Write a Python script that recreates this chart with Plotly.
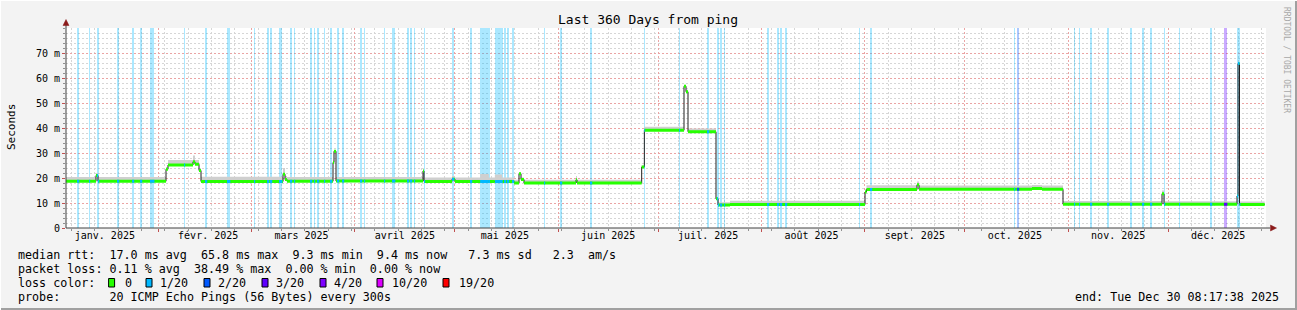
import pandas as pd
import plotly.graph_objects as go

# ---------------- data ----------------
END = pd.Timestamp("2025-12-30 08:17:38")
START = END - pd.Timedelta(days=360)
YEAR0 = pd.Timestamp("2025-01-01")

# median rtt as step changes: day of year (days since 2025-01-01) -> value (ms)
seg_day = [3.35, 12.35, 12.95, 33.35, 33.95, 41.45, 42.05, 43.25, 43.85, 68.45,
           69.05, 69.65, 83.45, 83.75, 84.35, 110.45, 110.75, 119.15, 120.05, 127.6,
           130.2, 132.0, 134.2, 137.8, 139.25, 139.85, 140.75, 156.35, 156.65, 176.05,
           176.85, 188.75, 189.35, 189.95, 198.35, 198.95, 202.55, 243.05, 243.5, 258.65,
           259.25, 293.15, 296.15, 302.45, 332.15, 332.75, 354.65, 354.95, 355.4]
seg_ms = [18.7, 21.0, 18.7, 23.5, 25.2, 26.5, 25.5, 23.0, 18.6, 21.5,
          19.4, 18.7, 26.2, 30.7, 18.8, 22.8, 18.6, 19.5, 18.6, 18.6,
          18.6, 18.6, 18.6, 18.0, 21.7, 19.4, 18.0, 19.3, 18.0, 24.4,
          39.1, 56.7, 54.5, 38.5, 11.7, 9.2, 9.4, 14.4, 15.4, 17.3,
          15.5, 15.8, 15.5, 9.5, 13.7, 9.5, 12.8, 65.8, 9.4]
# upper edge of the grey "smoke" (spread of the 20 pings)
seg_smoke = [20.4, 22.0, 20.4, 24.3, 27.2, 29.0, 27.2, 24.0, 20.5, 24.0,
             20.8, 20.4, 27.0, 31.2, 20.4, 23.4, 20.2, 20.8, 20.2, 21.6,
             20.2, 21.4, 20.2, 19.3, 22.4, 20.2, 19.3, 20.8, 19.3, 25.0,
             40.5, 57.3, 55.3, 39.8, 12.4, 10.3, 10.9, 15.5, 17.1, 18.6,
             17.0, 17.2, 17.0, 10.8, 15.0, 10.7, 13.4, 66.2, 10.6]
line_end_day = 362.95

# packet loss events: day of year, duration (hours), loss level index
loss_day = [6.65, 10.25, 12.65, 18.65, 23.15, 25.55, 28.55, 38.75, 45.05, 51.65,
            59.75, 63.65, 64.55, 67.25, 70.55, 71.75, 76.55, 77.75, 78.65, 80.75,
            82.55, 84.65, 86.15, 91.55, 92.75, 98.75, 101.15, 105.65, 106.55, 107.75,
            110.75, 119.15, 124.55, 127.55, 132.05, 134.75, 135.65, 137.15, 146.75, 151.55,
            160.55, 176.75, 187.25, 195.65, 198.65, 199.55, 200.75, 213.65, 216.65, 217.55,
            219.05, 241.25, 244.55, 287.75, 288.65, 305.75, 307.25, 310.55, 315.65, 322.55,
            326.15, 328.55, 332.75, 337.25, 346.55, 350.75, 354.65]
loss_hours = [16, 8, 16, 16, 16, 16, 32, 8, 16, 24,
              8, 16, 16, 24, 16, 8, 16, 8, 16, 8,
              16, 16, 16, 16, 8, 8, 24, 16, 16, 8,
              8, 16, 16, 72, 56, 16, 16, 16, 8, 16,
              16, 8, 8, 16, 16, 16, 8, 16, 16, 16,
              16, 8, 16, 8, 16, 8, 8, 16, 16, 16,
              16, 16, 8, 8, 16, 24, 24]
loss_level = [1] * len(loss_day)
loss_level[loss_day.index(288.65)] = 2
loss_level[loss_day.index(350.75)] = 3

loss_labels = ["0", "1/20", "2/20", "3/20", "4/20", "10/20", "19/20"]
loss_colors = ["#26ff00", "#00b8ff", "#0059ff", "#5e00ff", "#7e00ff", "#dd00ff", "#ff0000"]

month_labels = ["janv. 2025", "févr. 2025", "mars 2025", "avril 2025", "mai 2025", "juin 2025",
                "juil. 2025", "août 2025", "sept. 2025", "oct. 2025", "nov. 2025", "déc. 2025"]
y_ticks = [0, 10, 20, 30, 40, 50, 60, 70]
y_labels = ["0"] + [f"{v} m" for v in y_ticks[1:]]

row_rtt = "median rtt:  17.0 ms avg  65.8 ms max  9.3 ms min  9.4 ms now   7.3 ms sd   2.3  am/s"
row_loss = "packet loss: 0.11 % avg  38.49 % max  0.00 % min  0.00 % now"
row_probe = "probe:       20 ICMP Echo Pings (56 Bytes) every 300s"
row_end = "end: Tue Dec 30 08:17:38 2025"

# ---------------- helpers ----------------
MONO = "DejaVu Sans Mono"


def day2ts(d):
    return YEAR0 + pd.Timedelta(days=d)


def px(x):  # pixel -> paper x
    return (x - 66) / 1200.0


def py(y):  # pixel -> paper y
    return (228 - y) / 200.0


def nb(s):
    return s.replace(" ", "\u00a0")


def rgba(hexc, a):
    h = hexc.lstrip("#")
    return f"rgba({int(h[0:2],16)},{int(h[2:4],16)},{int(h[4:6],16)},{a})"


bounds = seg_day + [line_end_day]
step_x = [day2ts(d) for d in bounds]
step_y = seg_ms + [seg_ms[-1]]
smoke_y = seg_smoke + [seg_smoke[-1]]

fig = go.Figure()

# loss background bars
bar_x = [day2ts(d + h / 48.0) for d, h in zip(loss_day, loss_hours)]
bar_w = [h * 3600 * 1000 for h in loss_hours]
fig.add_trace(go.Bar(
    x=bar_x, y=[80] * len(loss_day), base=0, width=bar_w,
    marker=dict(color=[rgba(loss_colors[l], 0.33) for l in loss_level], line=dict(width=0)),
    hoverinfo="skip"))

# smoke band
fig.add_trace(go.Scatter(x=step_x, y=step_y, mode="lines", line=dict(width=0, shape="hv"),
                         hoverinfo="skip"))
fig.add_trace(go.Scatter(x=step_x, y=smoke_y, mode="lines", line=dict(width=0, shape="hv"),
                         fill="tonexty", fillcolor="#cfcfcf", hoverinfo="skip"))

# black step line
fig.add_trace(go.Scatter(x=step_x, y=step_y, mode="lines",
                         line=dict(color="#202020", width=1, shape="hv"), hoverinfo="skip"))

# green horizontal segments
gx, gy = [], []
for i, v in enumerate(seg_ms):
    gx += [day2ts(bounds[i]), day2ts(bounds[i + 1]), None]
    gy += [v, v, None]
fig.add_trace(go.Scatter(x=gx, y=gy, mode="lines", line=dict(color="#26ff00", width=3),
                         hoverinfo="skip"))

# loss-coloured pieces of the median line
for lvl in sorted(set(loss_level)):
    lx, ly = [], []
    for d, h, l in zip(loss_day, loss_hours, loss_level):
        if l != lvl:
            continue
        a, b = d, d + h / 24.0
        for i, v in enumerate(seg_ms):
            s0, s1 = max(a, bounds[i]), min(b, bounds[i + 1])
            if s1 > s0:
                lx += [day2ts(s0), day2ts(s1), None]
                ly += [v, v, None]
    fig.add_trace(go.Scatter(x=lx, y=ly, mode="lines", line=dict(color=loss_colors[lvl], width=3),
                             hoverinfo="skip"))

# invisible trace carrying the grid axis
fig.add_trace(go.Scatter(x=[START, END], y=[None, None], xaxis="x2", yaxis="y", mode="lines",
                         hoverinfo="skip"))

month_starts = list(pd.date_range("2025-02-01", "2025-12-01", freq="MS"))
label_dates = [d + pd.Timedelta(days=15) for d in pd.date_range("2025-01-01", "2025-12-01", freq="MS")]
mondays = list(pd.date_range("2025-01-06", END, freq="7D"))

RED = "#eba4a4"
GRAY = "#d6d6d6"
DASH = "2px,2px"

fig.update_layout(
    width=1297, height=310, autosize=False,
    margin=dict(l=66, r=31, t=28, b=82, pad=0),
    paper_bgcolor="#f3f3f3", plot_bgcolor="#ffffff",
    showlegend=False, bargap=0, barmode="overlay",
    xaxis=dict(type="date", range=[START, END], tickmode="array", tickvals=label_dates,
               ticktext=month_labels, showgrid=False, zeroline=False, showline=False,
               ticks="", tickfont=dict(family=MONO, size=10, color="#000"), fixedrange=True),
    xaxis2=dict(type="date", range=[START, END], overlaying="x", anchor="y", side="bottom",
                tickmode="array", tickvals=month_starts, showticklabels=False,
                showgrid=True, gridcolor=RED, griddash=DASH, gridwidth=1,
                ticks="outside", ticklen=3, tickcolor="#c05050", zeroline=False,
                minor=dict(tickvals=mondays, showgrid=True, gridcolor=GRAY, griddash=DASH,
                           ticks="outside", ticklen=2, tickcolor="#909090"),
                fixedrange=True),
    yaxis=dict(range=[0, 80], tickmode="array", tickvals=y_ticks, ticktext=y_labels,
               showgrid=True, gridcolor=RED, griddash=DASH, gridwidth=1, zeroline=False,
               ticks="outside", ticklen=3, tickcolor="#c05050", showline=False,
               tickfont=dict(family=MONO, size=10, color="#000"),
               minor=dict(dtick=2, showgrid=True, gridcolor=GRAY, griddash=DASH,
                          ticks="outside", ticklen=2, tickcolor="#909090"),
               fixedrange=True),
)

ann = []
ann.append(dict(x=px(648), y=py(19), xref="paper", yref="paper", text="Last 360 Days from ping",
                showarrow=False, font=dict(family=MONO, size=13, color="#000"),
                xanchor="center", yanchor="middle"))
ann.append(dict(x=px(11), y=py(127), xref="paper", yref="paper", text="Seconds", textangle=-90,
                showarrow=False, font=dict(family=MONO, size=11, color="#000"),
                xanchor="center", yanchor="middle"))
ann.append(dict(x=px(1287), y=py(60), xref="paper", yref="paper", text="RRDTOOL / TOBI OETIKER",
                textangle=90, showarrow=False, font=dict(family=MONO, size=8, color="#a8a8a8"),
                xanchor="center", yanchor="middle"))

LF = dict(family=MONO, size=11.7, color="#000")
for txt, y in [(row_rtt, 255), (row_loss, 268.5), (row_probe, 296.5)]:
    ann.append(dict(x=px(16), y=py(y), xref="paper", yref="paper", text=nb(txt), showarrow=False,
                    font=LF, xanchor="left", yanchor="middle"))
ann.append(dict(x=px(1281), y=py(296.5), xref="paper", yref="paper", text=nb(row_end),
                showarrow=False, font=LF, xanchor="right", yanchor="middle"))
ann.append(dict(x=px(16), y=py(282.5), xref="paper", yref="paper", text=nb("loss color:"),
                showarrow=False, font=LF, xanchor="left", yanchor="middle"))
box_x = [108.6, 146, 204, 262, 320, 377, 443]
lab_x = [123, 158, 216, 274, 332, 390, 457]
shapes = []
for bx, lxp, lab, col in zip(box_x, lab_x, loss_labels, loss_colors):
    shapes.append(dict(type="rect", xref="paper", yref="paper", x0=px(bx), x1=px(bx + 6),
                       y0=py(287), y1=py(278.5), fillcolor=col, line=dict(color="#000", width=1)))
    ann.append(dict(x=px(lxp), y=py(282.5), xref="paper", yref="paper", text=lab, showarrow=False,
                    font=LF, xanchor="left", yanchor="middle"))

# axes lines and arrows
AX = "#404040"
shapes.append(dict(type="line", xref="paper", yref="paper", x0=px(66), x1=px(66), y0=py(228), y1=py(24),
                   line=dict(color=AX, width=1), layer="above"))
shapes.append(dict(type="line", xref="paper", yref="paper", x0=px(66), x1=px(1270), y0=py(228), y1=py(228),
                   line=dict(color=AX, width=1), layer="above"))
shapes.append(dict(type="path", xref="paper", yref="paper",
                   path=f"M {px(66)},{py(19.5)} L {px(63)},{py(25.5)} L {px(69)},{py(25.5)} Z",
                   fillcolor="#8b1a1a", line=dict(color="#8b1a1a", width=0.5), layer="above"))
shapes.append(dict(type="path", xref="paper", yref="paper",
                   path=f"M {px(1276.5)},{py(228)} L {px(1270.5)},{py(225)} L {px(1270.5)},{py(231)} Z",
                   fillcolor="#8b1a1a", line=dict(color="#8b1a1a", width=0.5), layer="above"))
# frame
shapes.append(dict(type="line", xref="paper", yref="paper", x0=px(0), x1=px(1297), y0=py(309), y1=py(309),
                   line=dict(color="#a0a0a0", width=2), layer="above"))
shapes.append(dict(type="line", xref="paper", yref="paper", x0=px(1296), x1=px(1296), y0=py(0), y1=py(310),
                   line=dict(color="#a0a0a0", width=2), layer="above"))
shapes.append(dict(type="line", xref="paper", yref="paper", x0=px(0.5), x1=px(0.5), y0=py(0), y1=py(310),
                   line=dict(color="#ffffff", width=1), layer="above"))
shapes.append(dict(type="line", xref="paper", yref="paper", x0=px(0), x1=px(1297), y0=py(0.5), y1=py(0.5),
                   line=dict(color="#ffffff", width=1), layer="above"))

fig.update_layout(annotations=ann, shapes=shapes)
fig.write_html("out.html", config={"displayModeBar": False, "staticPlot": True})
